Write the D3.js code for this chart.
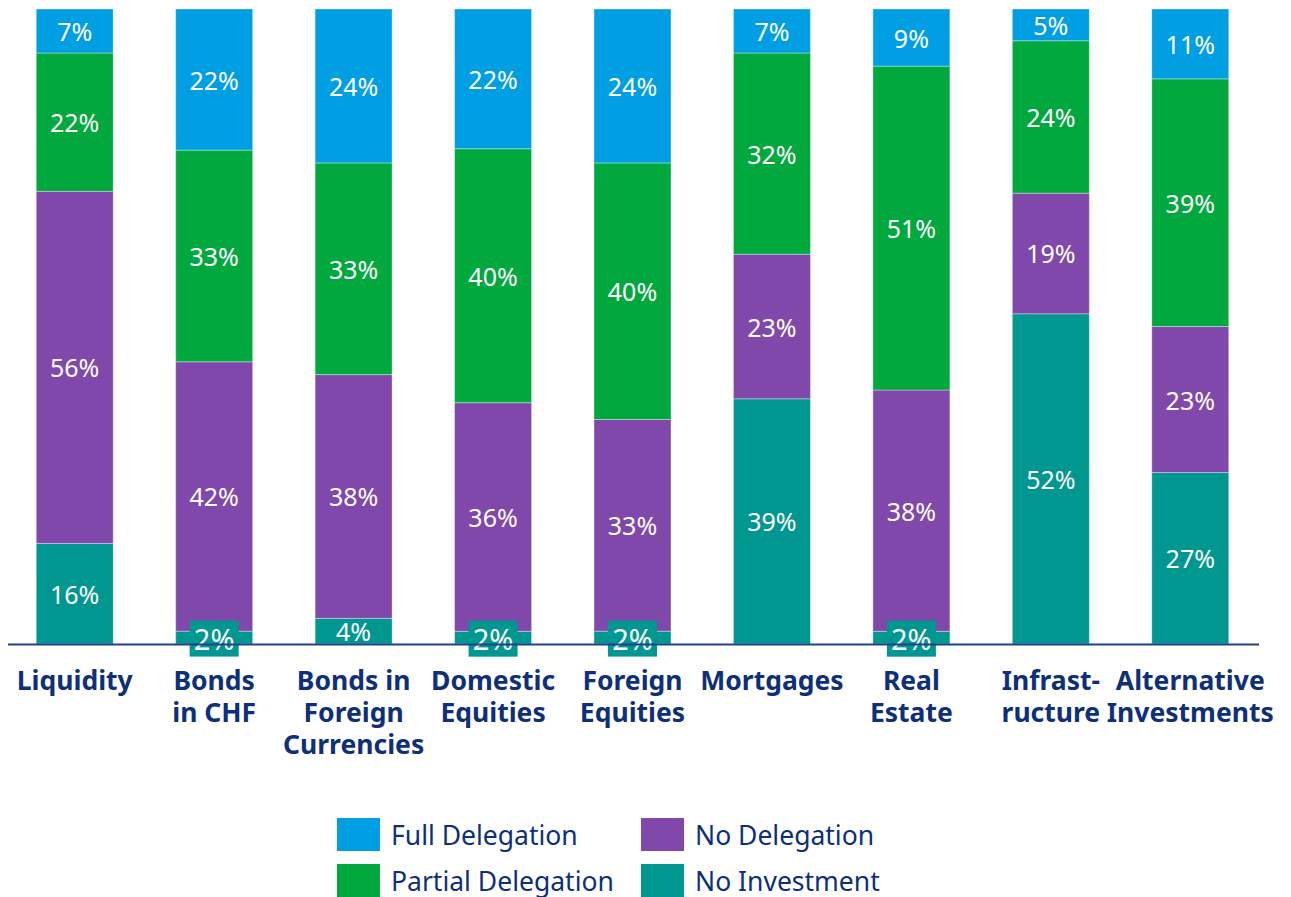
<!DOCTYPE html>
<html>
<head>
<meta charset="utf-8">
<script src="https://cdn.jsdelivr.net/npm/d3@7"></script>
<style>
  body { margin: 0; background: #fff; }
  svg text { font-family: "Noto Sans", "Open Sans", sans-serif; }
</style>
</head>
<body>
<svg id="chart" width="1291" height="897"></svg>
<script>
const categories = [
  ["Liquidity"],
  ["Bonds", "in CHF"],
  ["Bonds in", "Foreign", "Currencies"],
  ["Domestic", "Equities"],
  ["Foreign", "Equities"],
  ["Mortgages"],
  ["Real", "Estate"],
  ["Infrast-", "ructure"],
  ["Alternative", "Investments"]
];
const noInvestment      = [16, 2, 4, 2, 2, 39, 2, 52, 27];
const noDelegation      = [56, 42, 38, 36, 33, 23, 38, 19, 23];
const partialDelegation = [22, 33, 33, 40, 40, 32, 51, 24, 39];
const fullDelegation    = [7, 22, 24, 22, 24, 7, 9, 5, 11];

const keys = ["No Investment", "No Delegation", "Partial Delegation", "Full Delegation"];
const colors = { "Full Delegation": "#009fe3", "Partial Delegation": "#00a83e", "No Delegation": "#7f48aa", "No Investment": "#009790" };
const navy = "#0e2f7a";

const data = categories.map((c, i) => ({
  key: i,
  "No Investment": noInvestment[i],
  "No Delegation": noDelegation[i],
  "Partial Delegation": partialDelegation[i],
  "Full Delegation": fullDelegation[i]
}));

const svg = d3.select("#chart");
const plotTop = 9, base = 644;

const x = d3.scaleBand().domain(d3.range(categories.length)).range([5, 1260]).paddingInner(0.448).paddingOuter(0.224);
const y = d3.scaleLinear().domain([0, 1]).range([base, plotTop]);

const series = d3.stack().keys(keys).offset(d3.stackOffsetExpand)(data);

const layer = svg.append("g").selectAll("g").data(series).join("g").attr("fill", d => colors[d.key]);

layer.selectAll("rect").data(d => d).join("rect")
  .attr("x", (d, i) => x(i))
  .attr("y", d => y(d[1]))
  .attr("width", x.bandwidth())
  .attr("height", d => y(d[0]) - y(d[1]))
  .attr("stroke", "#ffffff").attr("stroke-opacity", 0.35).attr("stroke-width", 1);

// value labels
series.forEach(s => {
  s.forEach((d, i) => {
    const v = d.data[s.key];
    const cx = x(i) + x.bandwidth() / 2;
    const cy = (y(d[0]) + y(d[1])) / 2;
    if (v < 3) {
      svg.append("rect").attr("x", cx - 24.5).attr("y", cy - 17).attr("width", 49).attr("height", 36)
        .attr("fill", colors[s.key]);
      svg.append("text").attr("x", cx).attr("y", cy + 1).attr("text-anchor", "middle").attr("dominant-baseline", "central")
        .attr("fill", "#fff").style("font-size", "29px").text(v + "%");
    } else {
      svg.append("text").attr("x", cx).attr("y", cy).attr("text-anchor", "middle").attr("dominant-baseline", "central")
        .attr("fill", "#fff").style("font-size", "25px").text(v + "%");
    }
  });
});

// baseline axis
svg.append("line").attr("x1", 8).attr("x2", 1259).attr("y1", base + 0.5).attr("y2", base + 0.5)
  .attr("stroke", "#23408a").attr("stroke-width", 2);

// category labels
const axis = svg.append("g").attr("transform", `translate(0,${base})`)
  .call(d3.axisBottom(x).tickSize(0).tickFormat(""));
axis.select(".domain").remove();
axis.selectAll(".tick").each(function(d) {
  const t = d3.select(this).append("text").attr("text-anchor", "middle").attr("fill", navy)
    .style("font-size", "26.5px").style("font-weight", "bold");
  categories[d].forEach((line, j) => {
    t.append("tspan").attr("x", 0).attr("y", 46 + j * 32).text(line);
  });
});

// legend
const legendItems = [
  { key: "Full Delegation", col: 0, row: 0 },
  { key: "No Delegation", col: 1, row: 0 },
  { key: "Partial Delegation", col: 0, row: 1 },
  { key: "No Investment", col: 1, row: 1 }
];
const legend = svg.append("g").selectAll("g").data(legendItems).join("g")
  .attr("transform", d => `translate(${337 + d.col * 304},${818 + d.row * 46})`);
legend.append("rect").attr("width", 43).attr("height", 33).attr("fill", d => colors[d.key]);
legend.append("text").attr("x", 54).attr("y", 17).attr("dominant-baseline", "central")
  .attr("fill", navy).style("font-size", "26.5px").text(d => d.key);
</script>
</body>
</html>
